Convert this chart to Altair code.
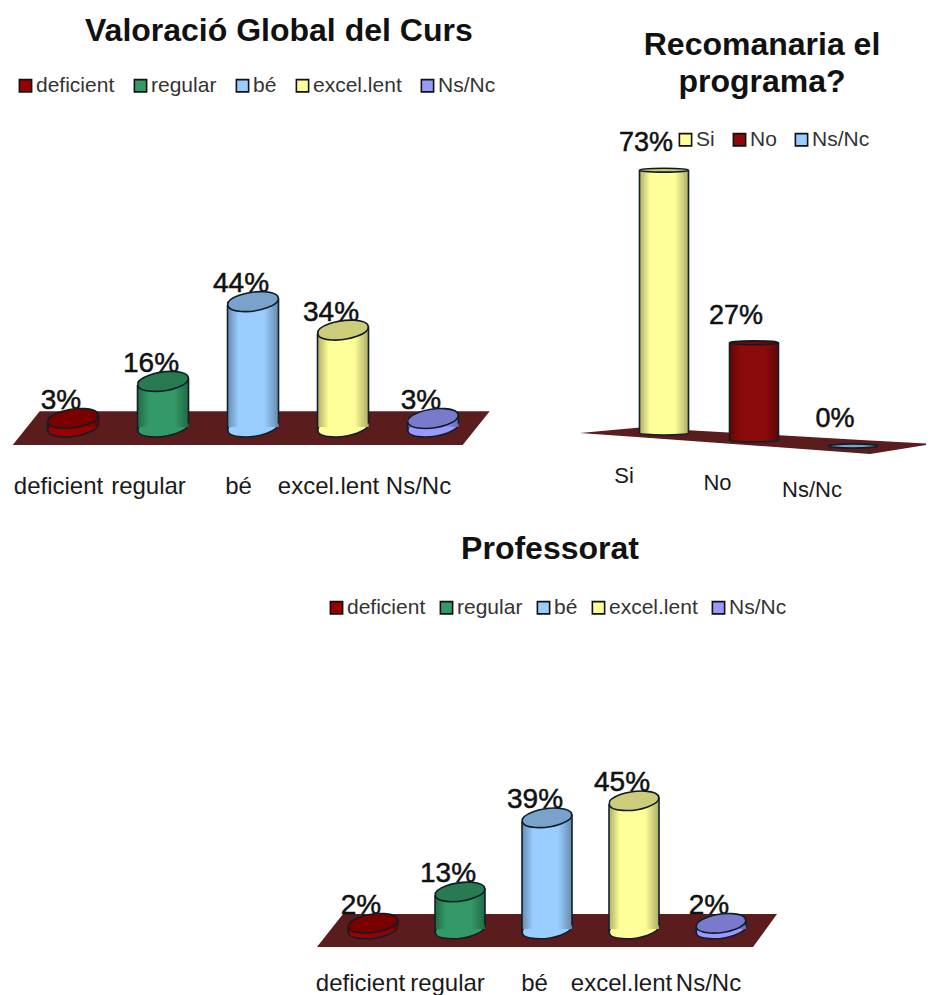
import json
import altair as alt
import pandas as pd

# ---- data ----
global_cats = ["deficient", "regular", "bé", "excel.lent", "Ns/Nc"]
global_vals = [3, 16, 44, 34, 3]
global_title = "Valoració Global del Curs"

prof_cats = ["deficient", "regular", "bé", "excel.lent", "Ns/Nc"]
prof_vals = [2, 13, 39, 45, 2]
prof_title = "Professorat"

rec_cats = ["Si", "No", "Ns/Nc"]
rec_vals = [73, 27, 0]
rec_title = ["Recomanaria el", "programa?"]

five_colors = ["#990000", "#339966", "#99CCFF", "#FFFF99", "#9999FF"]
rec_colors = ["#FFFF99", "#8B0A0A", "#99CCFF"]

FONT = "Liberation Sans"
EDGE = "#10202a"
FLOOR = "#5a1c1c"

TILT_PATH = "M-0.99,0.139 A1,0.36 -8 1 1 0.99,-0.139 A1,0.36 -8 1 1 -0.99,0.139Z"
FLAT_PATH = "M-1,0 A1,0.08 0 1 1 1,0 A1,0.08 0 1 1 -1,0Z"

SHADE = alt.LinearGradient(
    gradient="linear", x1=0, x2=1, y1=0, y2=0,
    stops=[
        alt.GradientStop(color="rgba(0,0,0,0.32)", offset=0),
        alt.GradientStop(color="rgba(0,0,0,0)", offset=0.22),
        alt.GradientStop(color="rgba(0,0,0,0)", offset=0.72),
        alt.GradientStop(color="rgba(0,0,0,0.32)", offset=1),
    ],
)


def legend(n, x, y, pad):
    return alt.Legend(
        title=None, orient="none", legendX=x, legendY=y, direction="horizontal", columns=n,
        symbolType="square", symbolSize=150, symbolStrokeColor="#111111", symbolStrokeWidth=1.6,
        labelFont=FONT, labelFontSize=21, labelColor="#333333", labelOffset=0,
        columnPadding=pad, padding=0,
    )


def axis_x(cats, label_offset):
    return alt.Axis(
        values=list(range(len(cats))),
        labelExpr=json.dumps(cats) + "[datum.value]",
        domain=False, ticks=False, grid=False, title=None,
        labelFont=FONT, labelFontSize=24, labelColor="#1a1a1a", labelPadding=4,
        labelOffset=label_offset, labelOverlap=False, labelFlush=False, labelBound=False,
        labelAngle=0,
    )


def panel(cats, vals, colors, title, first, step, width, zero, k, height, rx, path,
          floor, leg, lab_offset=None, tilt=3.5, text_dx=-12, text_dy=-9.5, size=28,
          base_offsets=None, x_offsets=None, side_labels=None):
    df = pd.DataFrame({"pos": range(len(cats)), "cat": cats, "v": vals, "zero": [0] * len(cats)})
    df["lab"] = [f"{v}%" for v in vals]
    xs = alt.Scale(domain=[-first / step, (width - first) / step], nice=False, zero=False, padding=0)
    ys = alt.Scale(domain=[(zero - height) / k, zero / k], nice=False, zero=False, padding=0)
    x_axis = axis_x(cats, lab_offset) if lab_offset is not None else None
    x_plain = alt.X("pos:Q", scale=xs, axis=x_axis)
    color = alt.Color("cat:N", scale=alt.Scale(domain=cats, range=colors), legend=leg)

    fl = pd.DataFrame(floor)
    layers = [
        alt.Chart(fl).mark_area(color=FLOOR, interpolate="linear", clip=True).encode(
            x=alt.X("x:Q", scale=xs, axis=x_axis),
            y=alt.Y("top:Q", scale=ys, axis=None),
            y2="bot:Q",
        )
    ]
    base_offsets = base_offsets or [0] * len(cats)
    x_offsets = x_offsets or [0] * len(cats)
    for i in range(len(cats)):
        one = df.iloc[[i]]
        xo, yo = x_offsets[i], base_offsets[i]
        base = alt.Chart(one)
        y_v = alt.Y("v:Q", scale=ys, axis=None)
        y_0 = alt.Y("zero:Q", scale=ys, axis=None)
        size_e = (2 * rx) ** 2
        layers += [
            base.mark_text(font=FONT, fontSize=size, align="center", baseline="alphabetic",
                           color="#111111", stroke="#111111", strokeWidth=0.5,
                           dx=text_dx + xo, dy=text_dy + yo).encode(x=x_plain, y=y_v, text="lab:N"),
            base.mark_point(shape=path, filled=True, size=size_e, stroke=EDGE, strokeWidth=1.6,
                            opacity=1, xOffset=xo, yOffset=yo).encode(x=x_plain, y=y_0, color=color),
            base.mark_bar(size=2 * rx, xOffset=xo, yOffset=yo, y2Offset=yo, stroke=None).encode(
                x=x_plain, y=y_v, y2="zero:Q", color=color),
            base.mark_bar(size=2 * rx, xOffset=xo, yOffset=yo, y2Offset=yo, color=SHADE).encode(
                x=x_plain, y=y_v, y2="zero:Q"),
            base.mark_rule(color=EDGE, strokeWidth=1.6, xOffset=xo - rx, yOffset=yo + tilt,
                           y2Offset=yo + tilt).encode(x=x_plain, y=y_v, y2="zero:Q"),
            base.mark_rule(color=EDGE, strokeWidth=1.6, xOffset=xo + rx, yOffset=yo - tilt,
                           y2Offset=yo - tilt).encode(x=x_plain, y=y_v, y2="zero:Q"),
            base.mark_point(shape=path, filled=True, size=size_e, stroke=EDGE, strokeWidth=1.6,
                            opacity=1, xOffset=xo, yOffset=yo).encode(x=x_plain, y=y_v, color=color),
            base.mark_point(shape=path, filled=True, size=size_e, color="#000000", opacity=0.2,
                            xOffset=xo, yOffset=yo).encode(x=x_plain, y=y_v),
        ]
        if side_labels:
            layers.append(
                base.mark_text(font=FONT, fontSize=22, align="center", baseline="middle",
                               color="#1a1a1a", dx=side_labels[0][i], dy=side_labels[1][i]).encode(
                    x=x_plain, y=y_0, text="cat:N")
            )
    return alt.layer(*layers).properties(width=width, height=height, title=title)


p1 = panel(
    global_cats, global_vals, five_colors,
    alt.TitleParams(text=global_title, anchor="start", frame="group", dx=77, offset=-40,
                    font=FONT, fontSize=32, fontWeight="bold", color="#111111"),
    first=65, step=90, width=522, zero=419, k=2.85, height=462, rx=25.5, path=TILT_PATH,
    floor={"x": [-0.67, -0.37, 4.33, 4.63], "top": [-6.3, 5.5, 5.5, 5.5], "bot": [-6.3, -6.3, -6.3, 5.5]},
    leg=legend(5, 7, 67, 15), lab_offset=-15,
)

p2 = panel(
    rec_cats, rec_vals, rec_colors,
    alt.TitleParams(text=rec_title, anchor="middle", frame="group", dx=14, offset=-91,
                    font=FONT, fontSize=32, fontWeight="bold", color="#111111", lineHeight=37),
    first=94, step=94.5, width=356, zero=425, k=3.6, height=462, rx=24.5, path=FLAT_PATH,
    floor={"x": [-0.889, -0.254, 2.18, 2.847], "top": [0, 1.52, -2.06, -3.04], "bot": [0, -1.2, -5.8, -3.04]},
    leg=legend(3, 105, 121, 14), tilt=0, text_dx=-18, text_dy=-19, size=27,
    base_offsets=[0, 7, 13], x_offsets=[0, -4.5, 0],
    side_labels=([-40, -41, -41], [43, 50, 57]),
)

p3 = panel(
    prof_cats, prof_vals, five_colors,
    alt.TitleParams(text=prof_title, anchor="middle", frame="group", offset=-40,
                    font=FONT, fontSize=32, fontWeight="bold", color="#111111"),
    first=73, step=87, width=500, zero=403, k=2.85, height=441, rx=25, path=TILT_PATH,
    floor={"x": [-0.644, -0.345, 4.368, 4.644], "top": [-6.3, 5.26, 5.26, 5.26], "bot": [-6.3, -6.3, -6.3, 5.26]},
    leg=legend(5, 26, 71, 10), lab_offset=-13,
)

spacer = alt.Chart(pd.DataFrame({"a": [0]})).mark_text(text=" ").properties(width=292, height=441)

top = alt.hconcat(p1, p2, spacing=40).resolve_scale(color="independent", x="independent", y="independent")
bottom = alt.hconcat(spacer, p3, spacing=0).resolve_scale(color="independent", x="independent", y="independent")
chart = (
    alt.vconcat(top, bottom, spacing=25)
    .resolve_scale(color="independent", x="independent", y="independent")
    .properties(padding=0, background="white")
    .configure_view(stroke=None)
)
chart.save("out.html", embed_options={"renderer": "svg", "actions": False})
